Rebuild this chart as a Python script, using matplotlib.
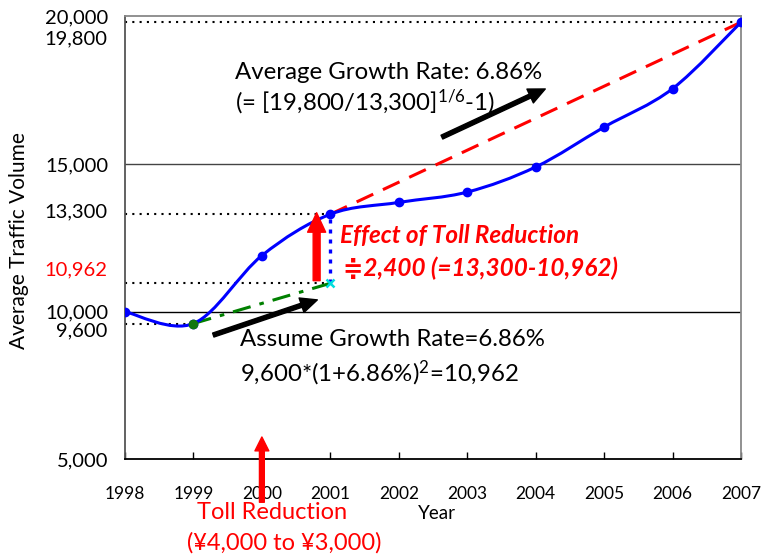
import matplotlib.pyplot as plt
from matplotlib.path import Path
from matplotlib.patches import PathPatch

# traffic volume
years = [1998, 1999, 2000, 2001, 2002, 2003, 2004, 2005, 2006, 2007]
traffic = [10000, 9600, 11900, 13300, 13700, 14050, 14900, 16250, 17550, 19800]

# average growth 2001 -> 2007
trend_years = [2001, 2007]
trend_vals = [13300, 19800]

# assumed growth without toll cut, 1999 -> 2001
assume_years = [1999, 2001]
assume_vals = [9600, 10962]

y_ticks = [5000, 10000, 15000, 20000]
y_tick_labels = ['5,000', '10,000', '15,000', '20,000']

plt.rcParams['font.family'] = ['Lato', 'DejaVu Sans']
plt.rcParams['mathtext.fontset'] = 'custom'
plt.rcParams['mathtext.rm'] = 'Lato'
plt.rcParams['mathtext.it'] = 'Lato:italic'


def smooth_path(xs, ys):
    # excel style smoothed line: cubic bezier, tension 1/6
    pts = list(zip(xs, ys))
    n = len(pts)
    verts = [pts[0]]
    codes = [Path.MOVETO]
    for i in range(n - 1):
        p0 = pts[max(i - 1, 0)]
        p1 = pts[i]
        p2 = pts[i + 1]
        p3 = pts[min(i + 2, n - 1)]
        c1 = (p1[0] + (p2[0] - p0[0]) / 6, p1[1] + (p2[1] - p0[1]) / 6)
        c2 = (p2[0] - (p3[0] - p1[0]) / 6, p2[1] - (p3[1] - p1[1]) / 6)
        verts += [c1, c2, p2]
        codes += [Path.CURVE4] * 3
    return Path(verts, codes)


fig = plt.figure(figsize=(7.63, 5.56), dpi=100)
ax = fig.add_axes([0.1638, 0.1737, 0.8074, 0.797])
ax.set_xlim(1998, 2007)
ax.set_ylim(5000, 20000)

# grid lines
ax.axhline(10000, color='black', lw=1, zorder=1)
ax.axhline(15000, color='#444444', lw=1, zorder=1)

# dotted reference lines
dot = (0, (1, 2.5))
ax.hlines(19800, 1998, 2007, colors='black', linestyles=[dot], lw=1.5, zorder=2)
ax.hlines(trend_vals[0], 1998, 2001, colors='black', linestyles=[dot], lw=1.5, zorder=2)
ax.hlines(assume_vals[1], 1998, 2001, colors='black', linestyles=[dot], lw=1.5, zorder=2)
ax.hlines(assume_vals[0], 1998, 1999, colors='black', linestyles=[dot], lw=1.5, zorder=2)
ax.vlines(2001, assume_vals[1], trend_vals[0], colors='blue',
          linestyles=[(0, (1.2, 1.8))], lw=2.4, zorder=2)

# trend lines
ax.plot(trend_years, trend_vals, color='red', lw=2.2, dashes=(6, 3.5), zorder=3)
ax.plot(assume_years, assume_vals, color='green', lw=2.2, dashes=(6, 3, 1.5, 3), zorder=3)

# actual traffic
ax.add_patch(PathPatch(smooth_path(years, traffic), facecolor='none',
                       edgecolor='blue', lw=2.2, zorder=4))
ax.plot(years, traffic, 'o', color='blue', ms=6, zorder=5)
ax.plot(assume_years[0], assume_vals[0], 'o', color='#117711', ms=6, zorder=6)
ax.plot(assume_years[1], assume_vals[1], 'x', color='#00dddd', ms=6, mew=1.8, zorder=6)

# arrows
ax.annotate('', xy=(2000.8, 13350), xytext=(2000.8, 11050),
            arrowprops=dict(color='red', width=5, headwidth=13, headlength=14, shrink=0),
            zorder=6)
ax.annotate('', xy=(2004.14, 17540), xytext=(2002.63, 15910),
            arrowprops=dict(color='black', width=3, headwidth=11, headlength=12, shrink=0))
ax.annotate('', xy=(2000.81, 10400), xytext=(1999.29, 9210),
            arrowprops=dict(color='black', width=3, headwidth=11, headlength=12, shrink=0))
ax.annotate('', xy=(2000.0, 5760), xytext=(2000.0, 3550),
            arrowprops=dict(color='red', width=3.5, headwidth=10, headlength=10, shrink=0),
            annotation_clip=False)

# texts
ax.text(1999.61, 18114, 'Average Growth Rate: 6.86%', fontsize=17.3, va='center')
ax.text(1999.61, 17095, r'(= [19,800/13,300]$^{1/6}$-1)', fontsize=17.3, va='center')
ax.text(2001.14, 12563, 'Effect of Toll Reduction', fontsize=17.5, color='red',
        fontweight='bold', style='italic', va='center')
ax.text(2001.19, 11480, '\u22512,400 (=13,300-10,962)', fontsize=17.5, color='red',
        fontweight='bold', style='italic', va='center')
ax.text(1999.68, 9045, 'Assume Growth Rate=6.86%', fontsize=17.3, va='center')
ax.text(1999.68, 7928, r'9,600*(1+6.86%)$^{2}$=10,962', fontsize=17.3, va='center')
ax.text(2000.15, 3190, 'Toll Reduction', fontsize=17, color='red', ha='center', va='center')
ax.text(2000.32, 2170, '(\u00a54,000 to \u00a53,000)', fontsize=17, color='red',
        ha='center', va='center')
ax.text(2002.56, 3186, 'Year', fontsize=13.5, ha='center', va='center')

# extra y labels
ax.text(-0.028, 19232, '19,800', transform=ax.get_yaxis_transform(), fontsize=14.5,
        ha='right', va='center')
ax.text(-0.028, 13375, '13,300', transform=ax.get_yaxis_transform(), fontsize=14.5,
        ha='right', va='center')
ax.text(-0.028, 11414, '10,962', transform=ax.get_yaxis_transform(), fontsize=14.5,
        ha='right', va='center', color='red')
ax.text(-0.028, 9347, '9,600', transform=ax.get_yaxis_transform(), fontsize=14.5,
        ha='right', va='center')

# axes styling
ax.set_yticks(y_ticks)
ax.set_yticklabels(y_tick_labels, fontsize=14.5)
ax.tick_params(axis='y', length=0, pad=12)
ax.set_xticks(years)
ax.set_xticklabels([str(y) for y in years], fontsize=12.5)
ax.tick_params(axis='x', direction='in', length=5, pad=19, width=1)
ax.set_ylabel('Average Traffic Volume', fontsize=15)
ax.yaxis.set_label_coords(-0.155, 0.495)

ax.spines['left'].set_color('#555555')
ax.spines['bottom'].set_color('black')
ax.spines['top'].set_color('#888888')
ax.spines['right'].set_color('#888888')
for s in ax.spines.values():
    s.set_linewidth(1.3)

fig.savefig('out.png', dpi=100)
